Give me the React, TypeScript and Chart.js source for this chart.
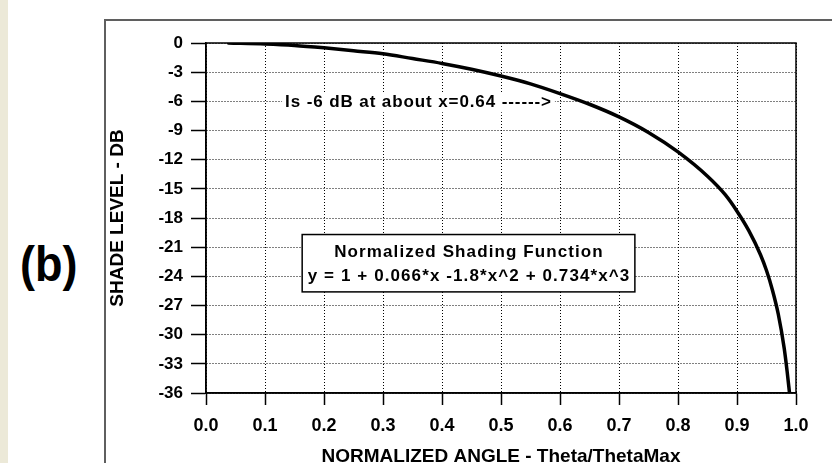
import { useEffect, useRef } from "react";
import { Chart, registerables } from "chart.js";

Chart.register(...registerables);

// ---- data ----
const X_VALUES = [0.038, 0.1, 0.15, 0.2, 0.25, 0.3, 0.35, 0.4, 0.45, 0.5, 0.55, 0.6, 0.65, 0.7, 0.75, 0.8, 0.85, 0.88, 0.9, 0.92, 0.94, 0.95, 0.96, 0.97, 0.98, 0.985, 0.989];
const DB_VALUES = [0, -0.1, -0.25, -0.5, -0.8, -1.1, -1.6, -2.1, -2.7, -3.4, -4.2, -5.2, -6.3, -7.6, -9.2, -11.2, -13.7, -15.6, -17.3, -19.3, -21.8, -23.4, -25.4, -27.9, -31.4, -33.8, -36];

const X_TICKS = [0, 0.1, 0.2, 0.3, 0.4, 0.5, 0.6, 0.7, 0.8, 0.9, 1.0];
const X_TICK_LABELS = ["0.0", "0.1", "0.2", "0.3", "0.4", "0.5", "0.6", "0.7", "0.8", "0.9", "1.0"];
const Y_TICKS = [0, -3, -6, -9, -12, -15, -18, -21, -24, -27, -30, -33, -36];
const Y_TICK_LABELS = ["0", "-3", "-6", "-9", "-12", "-15", "-18", "-21", "-24", "-27", "-30", "-33", "-36"];

const X_TITLE = "NORMALIZED ANGLE - Theta/ThetaMax";
const Y_TITLE = "SHADE LEVEL - DB";
const NOTE_TEXT = "Is -6 dB at about x=0.64 ------>";
const NOTE_AT = [0.134, -6];
const BOX_LINES = ["Normalized Shading Function", "y = 1 + 0.066*x -1.8*x^2 + 0.734*x^3"];
const BOX_LEFT_X = 0.163;
const BOX_TOP_Y = -19.7;
const BOX_BOTTOM_Y = -25.6;
const BOX_LINE_Y = [-21.5, -24.0];
const PANEL_LABEL = "(b)";

const FONT = '"Liberation Sans", Arial, Helvetica, sans-serif';

const overlayPlugin = {
  id: "overlay",
  beforeDatasetsDraw(chart: any) {
    const { ctx, chartArea: a, scales } = chart;
    const xs = scales.x;
    const ys = scales.y;
    ctx.save();
    // plot frame
    ctx.strokeStyle = "#000";
    ctx.lineWidth = 1.5;
    ctx.setLineDash([]);
    ctx.strokeRect(a.left, a.top, a.right - a.left, a.bottom - a.top);

    // -6 dB note
    ctx.font = `bold 17px ${FONT}`;
    (ctx as any).letterSpacing = "0.9px";
    ctx.textAlign = "left";
    ctx.textBaseline = "middle";
    const nx = xs.getPixelForValue(NOTE_AT[0]);
    const ny = ys.getPixelForValue(NOTE_AT[1]) + 1;
    const nw = ctx.measureText(NOTE_TEXT).width;
    ctx.fillStyle = "#fff";
    ctx.fillRect(nx - 3, ny - 10, nw + 6, 20);
    ctx.fillStyle = "#000";
    ctx.fillText(NOTE_TEXT, nx, ny);

    // formula box
    (ctx as any).letterSpacing = "1.1px";
    const w = Math.max(...BOX_LINES.map((t) => ctx.measureText(t).width));
    const bx = xs.getPixelForValue(BOX_LEFT_X);
    const by0 = ys.getPixelForValue(BOX_TOP_Y);
    const by1 = ys.getPixelForValue(BOX_BOTTOM_Y);
    const bw = w + 10;
    ctx.fillStyle = "#fff";
    ctx.fillRect(bx, by0, bw, by1 - by0);
    ctx.strokeStyle = "#000";
    ctx.lineWidth = 1.5;
    ctx.strokeRect(bx, by0, bw, by1 - by0);
    ctx.fillStyle = "#000";
    ctx.textAlign = "center";
    BOX_LINES.forEach((t, i) => {
      ctx.fillText(t, bx + bw / 2 + 0.5, ys.getPixelForValue(BOX_LINE_Y[i]));
    });
    (ctx as any).letterSpacing = "0px";
    ctx.restore();
  },
};

export default function App() {
  const ref = useRef<HTMLCanvasElement>(null);

  useEffect(() => {
    const canvas = ref.current;
    if (!canvas) return;
    const chart = new Chart(canvas, {
      type: "scatter",
      data: {
        datasets: [
          {
            data: X_VALUES.map((x, i) => ({ x, y: DB_VALUES[i] })),
            showLine: true,
            borderColor: "#000",
            backgroundColor: "#000",
            borderWidth: 3.5,
            borderCapStyle: "round",
            pointRadius: 0,
            cubicInterpolationMode: "monotone",
          } as any,
        ],
      },
      options: {
        responsive: false,
        animation: false,
        events: [],
        layout: { padding: { left: 104, right: 36, top: 43, bottom: 0 } },
        plugins: { legend: { display: false }, tooltip: { enabled: false } },
        scales: {
          x: {
            type: "linear",
            min: 0,
            max: 1,
            afterBuildTicks: (s: any) => {
              s.ticks = X_TICKS.map((v) => ({ value: v }));
            },
            afterFit: (s: any) => {
              s.height = 87;
            },
            ticks: {
              autoSkip: false,
              maxRotation: 0,
              color: "#000",
              padding: 10,
              font: { family: FONT, size: 18, weight: "bold" },
              callback: (_v: any, i: number) => X_TICK_LABELS[i],
            },
            grid: {
              color: "#000",
              lineWidth: 1,
              tickLength: 12,
              tickColor: "#000",
              tickWidth: 1.5,
              tickBorderDash: [],
            },
            border: { display: true, color: "#000", width: 1.5, dash: [1, 2] },
            title: {
              display: true,
              text: X_TITLE,
              color: "#000",
              font: { family: FONT, size: 19, weight: "bold" },
              padding: { top: 0, bottom: 11.8 },
            },
          },
          y: {
            type: "linear",
            min: -36,
            max: 0,
            afterBuildTicks: (s: any) => {
              s.ticks = Y_TICKS.map((v) => ({ value: v }));
            },
            afterFit: (s: any) => {
              s.width = 102;
            },
            ticks: {
              autoSkip: false,
              color: "#000",
              padding: 8,
              font: { family: FONT, size: 17, weight: "bold" },
              callback: (_v: any, i: number) => Y_TICK_LABELS[i],
            },
            grid: {
              color: "#000",
              lineWidth: 1,
              tickLength: 15,
              tickColor: "#000",
              tickWidth: 1.5,
              tickBorderDash: [],
            },
            border: { display: true, color: "#000", width: 1.5, dash: [1, 2] },
            title: {
              display: true,
              text: Y_TITLE,
              color: "#000",
              font: { family: FONT, size: 19, weight: "bold" },
              padding: { top: 2.6, bottom: 0 },
            },
          },
        },
      } as any,
      plugins: [overlayPlugin],
    });
    return () => chart.destroy();
  }, []);

  return (
    <div style={{ position: "absolute", left: 0, top: 0, width: 832, height: 463, overflow: "hidden", background: "#fff" }}>
      <div style={{ position: "absolute", left: 0, top: 0, width: 8, height: 463, background: "#ECE9D8" }} />
      <div
        style={{
          position: "absolute",
          left: 104,
          top: 19,
          width: 800,
          height: 500,
          borderLeft: "2px solid #5f5f5f",
          borderTop: "2px solid #5f5f5f",
        }}
      />
      <div
        style={{
          position: "absolute",
          left: 20,
          top: 239,
          font: `bold 50px ${FONT}`,
          lineHeight: "50px",
          transform: "scaleX(0.9)",
          transformOrigin: "left top",
          whiteSpace: "nowrap",
          color: "#000",
        }}
      >
        {PANEL_LABEL}
      </div>
      <canvas ref={ref} width={832} height={480} style={{ position: "absolute", left: 0, top: 0, width: 832, height: 480 }} />
    </div>
  );
}
